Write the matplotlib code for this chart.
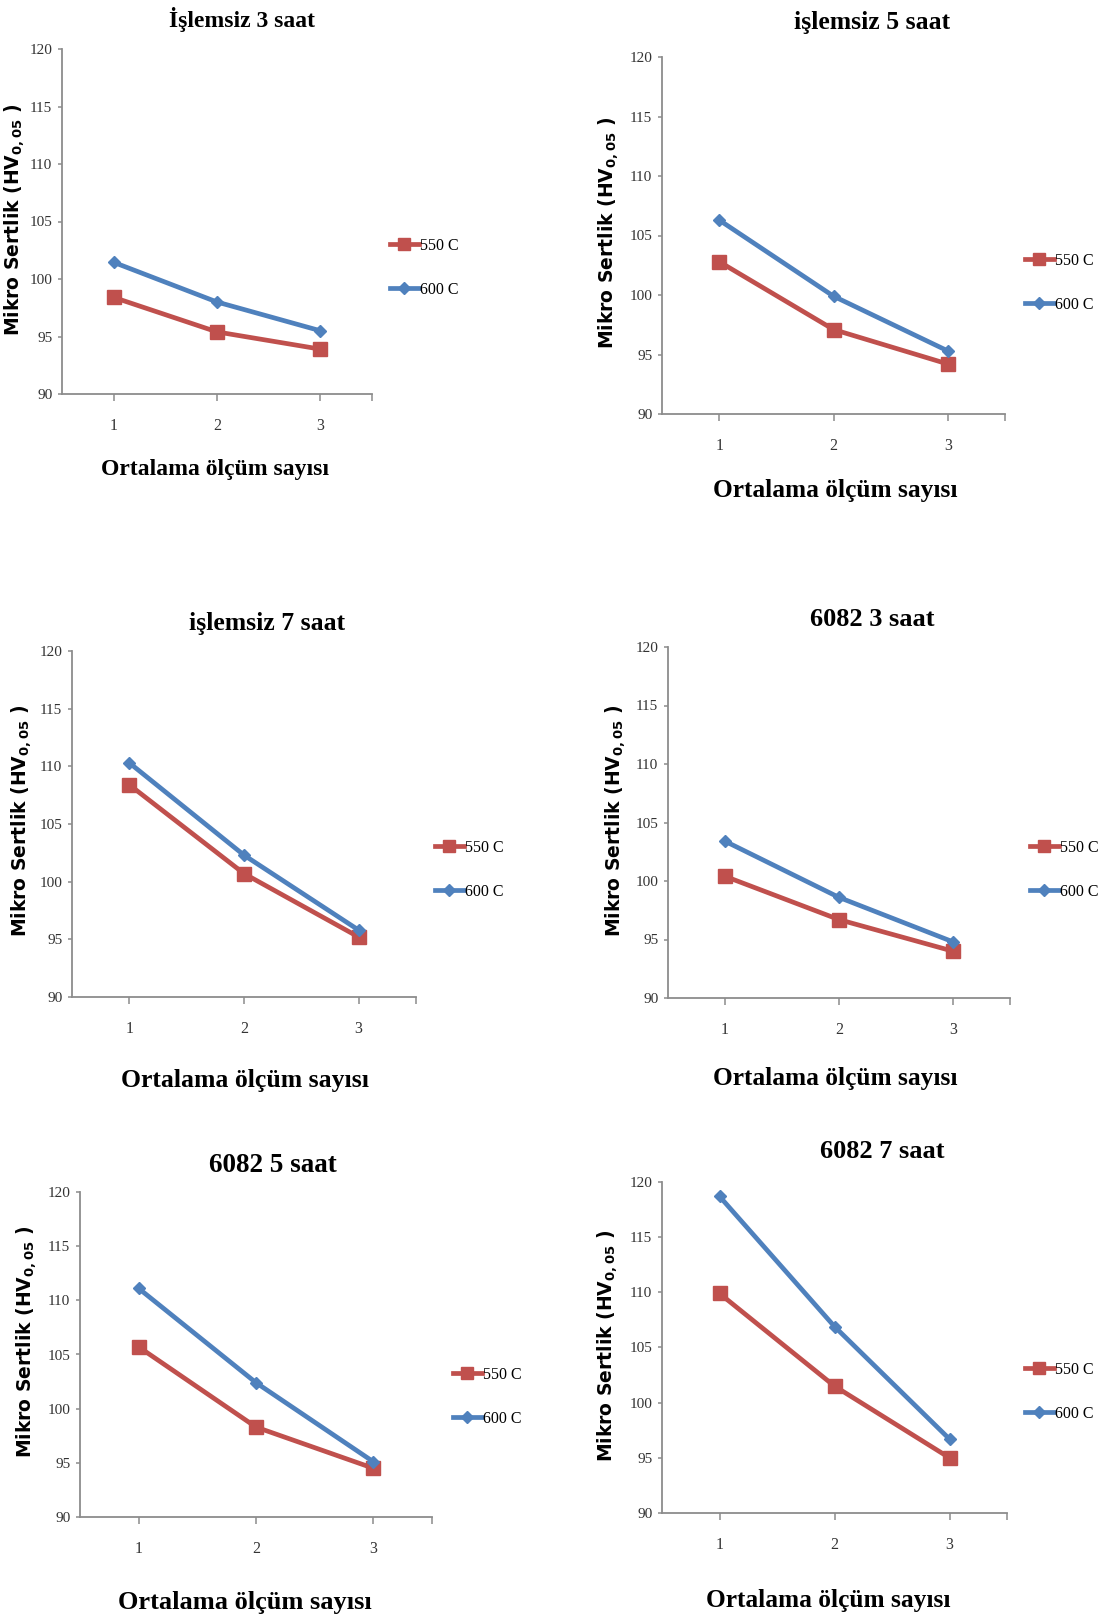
import matplotlib
matplotlib.use("Agg")
import matplotlib.pyplot as plt
from matplotlib.lines import Line2D

plt.rcParams["mathtext.fontset"] = "dejavusans"

# Measurement index (category axis)
olcum = [1, 2, 3]
x_ticks = ["1", "2", "3"]
y_ticks = [90, 95, 100, 105, 110, 115, 120]

titles = ["İşlemsiz 3 saat", "işlemsiz 5 saat", "işlemsiz 7 saat",
          "6082 3 saat", "6082 5 saat", "6082 7 saat"]

# Micro-hardness values (HV 0,05) for each condition
islemsiz3_550 = [98.4, 95.4, 93.9]
islemsiz3_600 = [101.45, 98.0, 95.5]
islemsiz5_550 = [102.8, 97.1, 94.2]
islemsiz5_600 = [106.3, 99.9, 95.3]
islemsiz7_550 = [108.4, 100.7, 95.2]
islemsiz7_600 = [110.3, 102.3, 95.8]
a6082_3_550 = [100.4, 96.7, 94.0]
a6082_3_600 = [103.4, 98.6, 94.8]
a6082_5_550 = [105.7, 98.3, 94.5]
a6082_5_600 = [111.1, 102.4, 95.1]
a6082_7_550 = [109.9, 101.5, 95.0]
a6082_7_600 = [118.7, 106.9, 96.7]

series_550 = [islemsiz3_550, islemsiz5_550, islemsiz7_550,
              a6082_3_550, a6082_5_550, a6082_7_550]
series_600 = [islemsiz3_600, islemsiz5_600, islemsiz7_600,
              a6082_3_600, a6082_5_600, a6082_7_600]
legend_labels = ["550 C", "600 C"]

RED = "#C0504D"
BLUE = "#4F81BD"
SERIF = "Liberation Serif"

W, H = 1101, 1623
fig = plt.figure(figsize=(W / 100, H / 100), dpi=100)
fig.patch.set_facecolor("white")

# Layout of each panel in pixels:
# axes box (left, top, right, bottom), title centre and size, xlabel centre
# and size, ylabel centre, legend anchor (left, middle)
layout = [
    dict(box=(62, 49, 372, 394), title=(242, 20), ts=17, xl=(215, 470), xs=17,
         yl=(15, 220), leg=(390, 268)),
    dict(box=(662, 57, 1005, 414), title=(872, 22), ts=18.5, xl=(835, 490), xs=18.3,
         yl=(609, 233), leg=(1025, 283)),
    dict(box=(72, 651, 416, 997), title=(267, 623), ts=18.5, xl=(245, 1080), xs=18.5,
         yl=(22, 821), leg=(435, 870)),
    dict(box=(668, 647, 1010, 998), title=(872, 620), ts=19, xl=(835, 1078), xs=18.3,
         yl=(616, 821), leg=(1030, 870)),
    dict(box=(80, 1192, 432, 1517), title=(273, 1165), ts=19.5, xl=(245, 1603), xs=19,
         yl=(27, 1342), leg=(453, 1397)),
    dict(box=(662, 1182, 1007, 1513), title=(882, 1152), ts=19, xl=(828, 1600), xs=18.3,
         yl=(608, 1346), leg=(1025, 1392)),
]


def fx(px):
    return px / W


def fy(py):
    return 1 - py / H


for i, spec in enumerate(layout):
    l, t, r, b = spec["box"]
    ax = fig.add_axes([fx(l), fy(b), (r - l) / W, (b - t) / H])
    ax.plot(olcum, series_550[i], color=RED, lw=3.4, marker="s", ms=9.5,
            mec=RED, mfc=RED, solid_capstyle="butt", zorder=3)
    ax.plot(olcum, series_600[i], color=BLUE, lw=3.4, marker="D", ms=6.5,
            mec=BLUE, mfc=BLUE, solid_capstyle="butt", zorder=4)
    ax.set_xlim(0.5, 3.5)
    ax.set_ylim(90, 120)
    ax.set_yticks(y_ticks)
    ax.set_yticklabels([str(v) for v in y_ticks], fontfamily=SERIF,
                       fontsize=11, color="#333333")
    ax.set_xticks([1, 2, 3, 3.5])
    ax.set_xticklabels(x_ticks + [""], fontfamily=SERIF, fontsize=11.5,
                       color="#333333")
    for s in ("top", "right"):
        ax.spines[s].set_visible(False)
    for s in ("left", "bottom"):
        ax.spines[s].set_color("#8C8C8C")
        ax.spines[s].set_linewidth(1.3)
    ax.tick_params(axis="y", direction="out", length=3, width=1.1,
                   color="#8C8C8C", pad=4)
    ax.tick_params(axis="x", direction="out", length=5, width=1.1,
                   color="#8C8C8C", pad=12)

    fig.text(fx(spec["title"][0]), fy(spec["title"][1]), titles[i],
             ha="center", va="center", fontfamily=SERIF, fontweight="bold",
             fontsize=spec["ts"])
    fig.text(fx(spec["xl"][0]), fy(spec["xl"][1]), "Ortalama ölçüm sayısı",
             ha="center", va="center", fontfamily=SERIF, fontweight="bold",
             fontsize=spec["xs"])
    fig.text(fx(spec["yl"][0]), fy(spec["yl"][1]),
             r"Mikro Sertlik (HV$_{\mathbf{0,05}}$ )",
             ha="center", va="center", rotation=90, fontfamily="DejaVu Sans",
             fontweight="bold", fontsize=13.5)

    handles = [
        Line2D([], [], color=RED, lw=3.4, marker="s", ms=9, mfc=RED, mec=RED),
        Line2D([], [], color=BLUE, lw=3.4, marker="D", ms=6, mfc=BLUE, mec=BLUE),
    ]
    ax.legend(handles, legend_labels, loc="center left",
              bbox_to_anchor=(fx(spec["leg"][0]), fy(spec["leg"][1])),
              bbox_transform=fig.transFigure, frameon=False, borderpad=0,
              borderaxespad=0, handlelength=1.8, handletextpad=0.1,
              labelspacing=1.75, prop=dict(family=SERIF, size=11.5))

fig.savefig("out.png", dpi=100, facecolor="white")
